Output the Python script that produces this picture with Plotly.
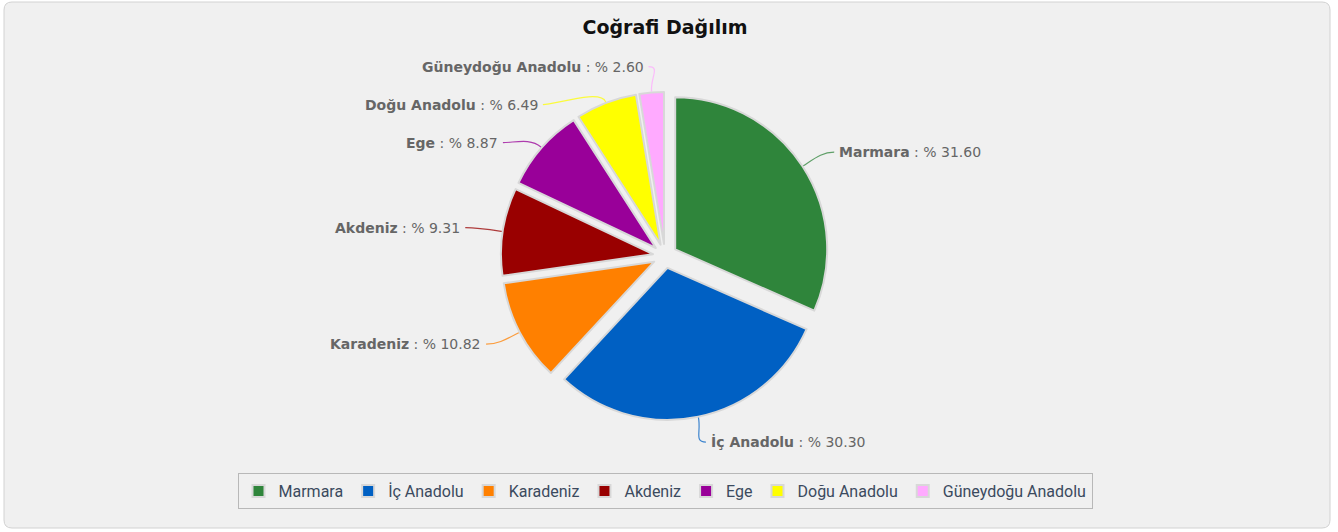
import math
import plotly.graph_objects as go

# ---- data ----
regions = ["Marmara", "İç Anadolu", "Karadeniz", "Akdeniz", "Ege", "Doğu Anadolu", "Güneydoğu Anadolu"]
shares = [31.60, 30.30, 10.82, 9.31, 8.87, 6.49, 2.60]
colors = ["#2f853b", "#0060c3", "#ff8000", "#990000", "#990099", "#ffff00", "#ffaaff"]
title_text = "Coğrafi Dağılım"

# ---- geometry (pixels) ----
W, H = 1338, 532
CX, CY = 665, 256          # pie centre
R = 152                    # slice radius
PULL = 0.08
RT = R * (1 + PULL)
LABEL_RX, LABEL_RY = 202, 190
GAP = 38


def px(x):
    return x / W


def py(y):
    return 1 - y / H


fig = go.Figure()
fig.add_trace(go.Pie(
    labels=regions, values=shares, sort=False, direction="clockwise", rotation=0,
    pull=PULL, textinfo="none", hoverinfo="label+percent",
    marker=dict(colors=colors, line=dict(color="#d8d8d8", width=2)),
    domain=dict(x=[px(CX - RT), px(CX + RT)], y=[py(CY + RT), py(CY - RT)]),
    showlegend=True,
))

# ---- label layout computed from the values ----
total = sum(shares)
cum = 0.0
items = []
for name, v, c in zip(regions, shares, colors):
    mid = (cum + v / 2) / total * 2 * math.pi
    cum += v
    dx, dy = math.sin(mid), -math.cos(mid)
    side = 1 if dx >= 0 else -1
    items.append(dict(name=name, v=v, c=c, dx=dx, dy=dy, side=side, ly=dy * LABEL_RY))

for s in (1, -1):
    grp = sorted([it for it in items if it["side"] == s], key=lambda it: it["ly"])
    for i in range(1, len(grp)):
        if grp[i]["ly"] < grp[i - 1]["ly"] + GAP:
            grp[i]["ly"] = grp[i - 1]["ly"] + GAP

shapes = []
annotations = []
for it in items:
    ly = it["ly"]
    t = min(abs(ly) / LABEL_RY, 1.0)
    lx = it["side"] * LABEL_RX * math.sqrt(1 - t * t)
    x0, y0 = CX + it["dx"] * (RT + 1), CY + it["dy"] * (RT + 1)
    x1, y1 = CX + lx, CY + ly
    c1 = (x0 + it["dx"] * 14, y0 + it["dy"] * 14)
    c2 = (x1 - it["side"] * 12, y1)
    path = (f"M {px(x0)},{py(y0)} C {px(c1[0])},{py(c1[1])} "
            f"{px(c2[0])},{py(c2[1])} {px(x1)},{py(y1)}")
    shapes.append(dict(type="path", xref="paper", yref="paper", path=path,
                       line=dict(color=it["c"], width=1.2), opacity=0.75))
    annotations.append(dict(
        xref="paper", yref="paper", x=px(x1 + it["side"] * 3), y=py(y1),
        xanchor="left" if it["side"] > 0 else "right", yanchor="middle",
        text=f"<b>{it['name']}</b> : % {it['v']:.2f}", showarrow=False,
        font=dict(family="DejaVu Sans", size=14, color="#666666"),
    ))

# background panel with rounded corners
rx0, ry0, rx1, ry1, rr = 4, 2, 1330, 528, 8
bg_path = (f"M {px(rx0 + rr)},{py(ry0)} L {px(rx1 - rr)},{py(ry0)} "
           f"Q {px(rx1)},{py(ry0)} {px(rx1)},{py(ry0 + rr)} L {px(rx1)},{py(ry1 - rr)} "
           f"Q {px(rx1)},{py(ry1)} {px(rx1 - rr)},{py(ry1)} L {px(rx0 + rr)},{py(ry1)} "
           f"Q {px(rx0)},{py(ry1)} {px(rx0)},{py(ry1 - rr)} L {px(rx0)},{py(ry0 + rr)} "
           f"Q {px(rx0)},{py(ry0)} {px(rx0 + rr)},{py(ry0)} Z")
shapes.insert(0, dict(type="path", xref="paper", yref="paper", path=bg_path,
                      fillcolor="#f0f0f0", line=dict(color="#d2d2d2", width=1), layer="below"))

fig.update_layout(
    width=W, height=H,
    margin=dict(l=0, r=0, t=0, b=0),
    paper_bgcolor="white", plot_bgcolor="white",
    title=dict(text=f"<b>{title_text}</b>", x=px(CX), xref="paper", xanchor="center",
               y=py(27), yref="paper", yanchor="middle",
               font=dict(family="DejaVu Sans", size=19, color="#111111")),
    legend=dict(orientation="h", x=px(CX), xanchor="center", y=py(491), yanchor="middle",
                bgcolor="#f0f0f0", bordercolor="#b8b8b8", borderwidth=1,
                font=dict(family="Roboto", size=16, color="#3b4a5e"), traceorder="normal"),
    shapes=shapes, annotations=annotations,
)

fig.write_html("out.html", config={"displayModeBar": False},
               post_script="document.body.style.margin='0';document.body.style.padding='0';")
